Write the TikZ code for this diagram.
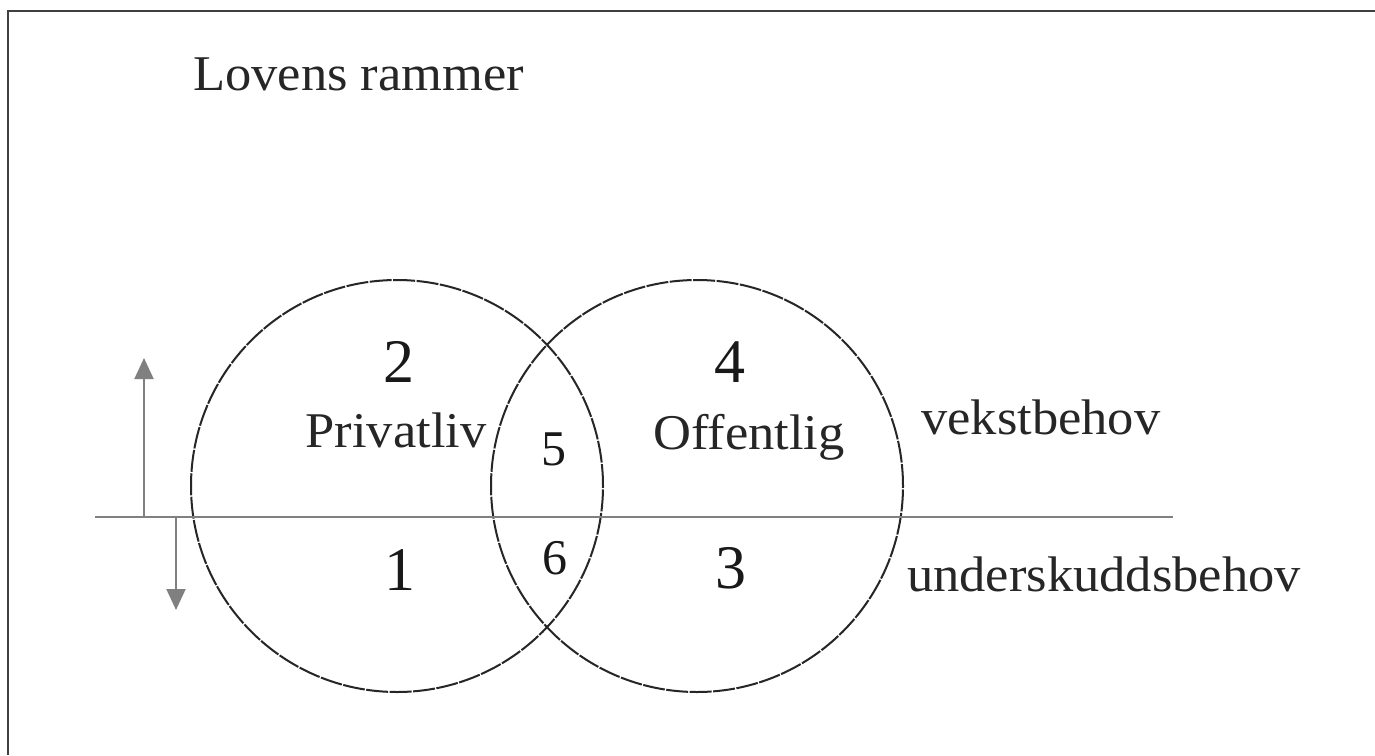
\documentclass[tikz,border=0pt]{standalone}
\usepackage{graphicx}
\usepackage{fontspec}
\setmainfont{Liberation Serif}
\usetikzlibrary{arrows.meta}
\newcommand\sx[1]{\scalebox{1.05}[1]{#1}}
\begin{document}
\begin{tikzpicture}[x=1pt,y=-1pt,
  lbl/.style={inner sep=0pt, anchor=base, text=black!85, font=\fontsize{50}{56}\selectfont},
  big/.style={inner sep=0pt, anchor=base, text=black!90, font=\fontsize{62}{70}\selectfont},
  small/.style={inner sep=0pt, anchor=base, text=black!90, font=\fontsize{50}{56}\selectfont},
  ring/.style={line width=2pt, draw=black!85, dash pattern=on 22pt off 1.5pt},
  axis/.style={line width=2.6pt, draw=black!50},
  arr/.style={line width=2pt, draw=black!50, -{Triangle[width=19pt,length=21pt]}}]
\useasboundingbox (0,0) rectangle (1375,755);
\fill[white] (0,0) rectangle (1375,755);
\draw[line width=2.5pt, draw=black!75] (8,755) -- (8,11) -- (1375,11);
% circles
\draw[ring] (397,486) circle[radius=206pt];
\draw[ring] (697,486) circle[radius=206pt];
% horizontal divider
\coordinate (hl) at (95,517);
\coordinate (hr) at (1173,517);
\draw[axis] (hl) -- (hr);
% arrows
\coordinate (ua) at (144,517);
\coordinate (ut) at (144,358);
\coordinate (da) at (176,517);
\coordinate (dt) at (176,610);
\draw[arr] (ua) -- (ut);
\draw[arr] (da) -- (dt);
% texts
\node[lbl, anchor=base west] (title) at (193,90) {\sx{Lovens rammer}};
\node[big] (n2) at (399,382) {2};
\node[lbl] (priv) at (396,447) {\sx{Privatliv}};
\node[small] (n5) at (554,465) {5};
\node[big] (n4) at (730,382) {4};
\node[lbl] (off) at (749,449) {\sx{Offentlig}};
\node[lbl, anchor=base west] (vekst) at (921,434) {\sx{vekstbehov}};
\node[big] (n1) at (400,590) {1};
\node[small] (n6) at (555,574) {6};
\node[big] (n3) at (731,588) {3};
\node[lbl, anchor=base west] (under) at (907,591) {\sx{underskuddsbehov}};
\end{tikzpicture}
\end{document}
